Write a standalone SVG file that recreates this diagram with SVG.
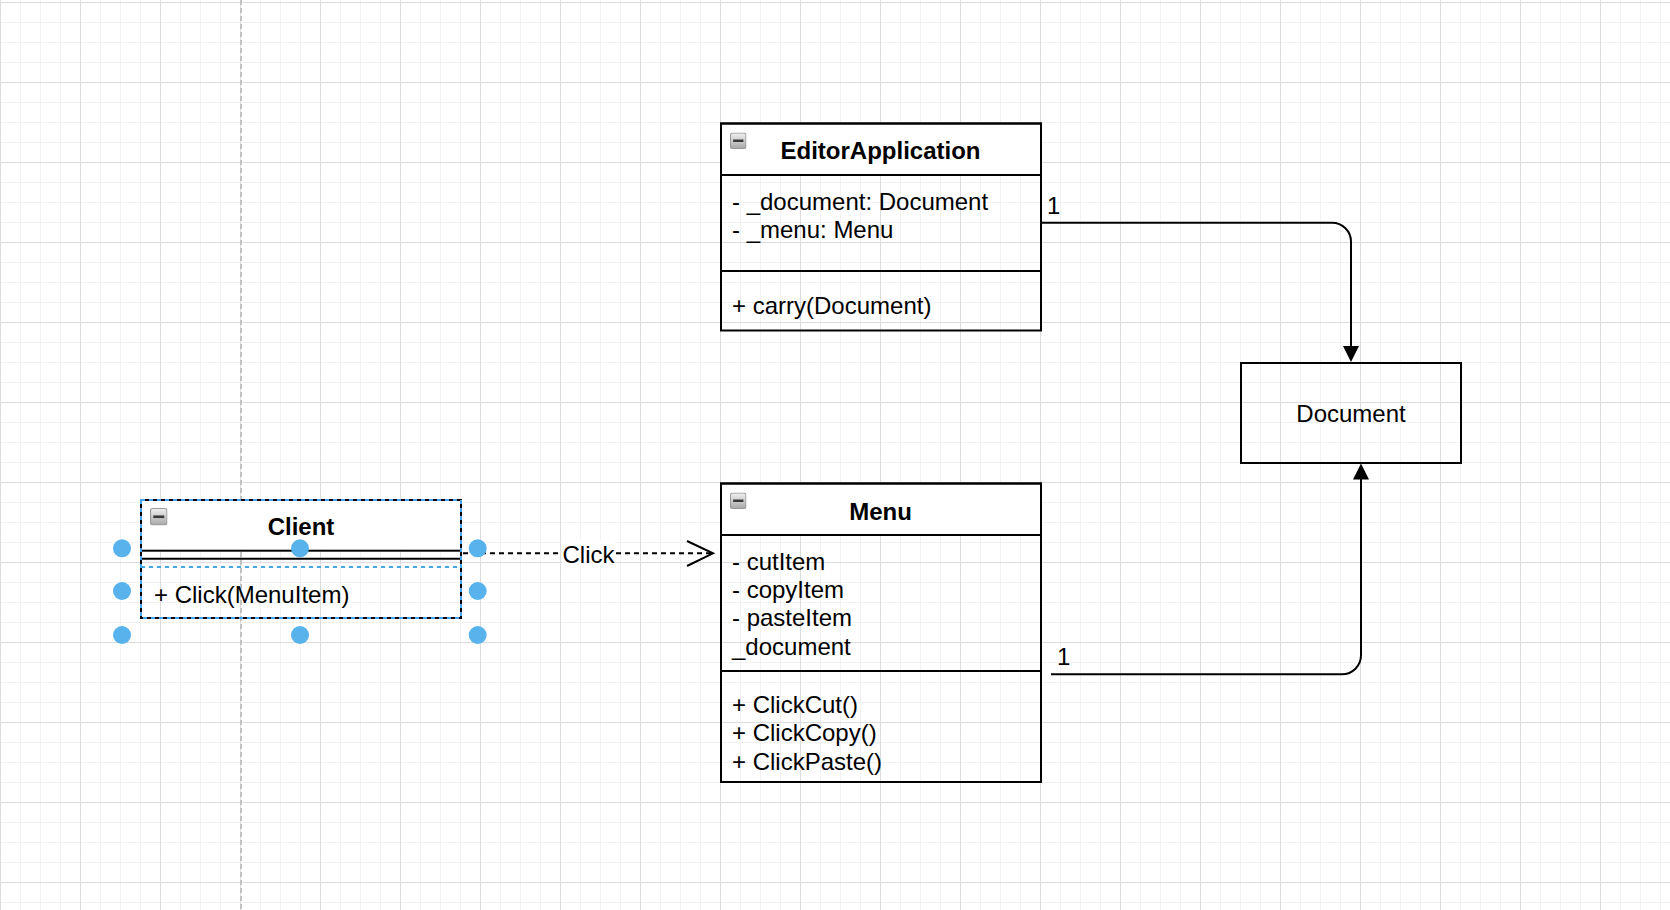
<svg xmlns="http://www.w3.org/2000/svg" width="1670" height="910" viewBox="0 0 1670 910">
<style>
.box{fill:none;stroke:#000;stroke-width:2}
.hdr{fill:#fff;stroke:#000;stroke-width:2}
.sep{stroke:#000;stroke-width:2}
.t{font-family:"Liberation Sans",Arial,sans-serif;font-size:24px;fill:#000}
.b{font-weight:bold;text-anchor:middle}
.c{text-anchor:middle}
.edge{fill:none;stroke:#000;stroke-width:2}
.sel{fill:none;stroke:#45a6f0;stroke-width:2;stroke-dasharray:4 4}
.handle{fill:#58b2ec}
</style>
<defs>
<pattern id="grid" patternUnits="userSpaceOnUse" x="0" y="2" width="80" height="80">
<rect width="80" height="80" fill="#fff"/>
<path d="M20.5 0V80M40.5 0V80M60.5 0V80M0 20.5H80M0 40.5H80M0 60.5H80" stroke="#f2f2f2" stroke-width="1"/>
<path d="M0.5 0V80M0 0.5H80" stroke="#dcdcdc" stroke-width="1"/>
</pattern>
<linearGradient id="ig" x1="0" y1="0" x2="0" y2="1">
<stop offset="0" stop-color="#f0f0f0"/>
<stop offset="1" stop-color="#a9a9a9"/>
</linearGradient>
<symbol id="minus" viewBox="0 0 16 16">
<rect x="0.5" y="0.5" width="15" height="15" rx="2" fill="url(#ig)" stroke="#9a9a9a" stroke-width="1"/>
<rect x="3" y="6.8" width="10" height="2.4" fill="#3a3a3a"/>
</symbol>
</defs>

<rect width="1670" height="910" fill="url(#grid)"/>
<line x1="241" y1="0" x2="241" y2="910" stroke="#c2c2c2" stroke-width="2" stroke-dasharray="5 3"/>

<g id="editor-application">
<rect class="hdr" x="721" y="123.5" width="320" height="51.5"/>
<rect class="box" x="721" y="123.5" width="320" height="207"/>
<line class="sep" x1="721" y1="271" x2="1041" y2="271"/>
<use href="#minus" x="730" y="132.5" width="16.5" height="16.5"/>
<text class="t b" x="880.5" y="159">EditorApplication</text>
<text class="t" x="732" y="209.5">- _document: Document</text>
<text class="t" x="732" y="238">- _menu: Menu</text>
<text class="t" x="732" y="314">+ carry(Document)</text>
</g>

<g id="menu">
<rect class="hdr" x="721" y="483.5" width="320" height="51.5"/>
<rect class="box" x="721" y="483.5" width="320" height="298.5"/>
<line class="sep" x1="721" y1="671" x2="1041" y2="671"/>
<use href="#minus" x="730" y="492.5" width="16.5" height="16.5"/>
<text class="t b" x="880.5" y="519.5">Menu</text>
<text class="t" x="732" y="569.5">- cutItem</text>
<text class="t" x="732" y="597.8">- copyItem</text>
<text class="t" x="732" y="626.2">- pasteItem</text>
<text class="t" x="732" y="654.5">_document</text>
<text class="t" x="732" y="713">+ ClickCut()</text>
<text class="t" x="732" y="741.3">+ ClickCopy()</text>
<text class="t" x="732" y="769.5">+ ClickPaste()</text>
</g>

<g id="document">
<rect class="box" x="1241" y="363" width="220" height="100"/>
<text class="t c" x="1351" y="421.5">Document</text>
</g>

<g id="client">
<rect class="hdr" x="141" y="500" width="320" height="50.7"/>
<rect class="box" x="141" y="500" width="320" height="118"/>
<line class="sep" x1="141" y1="558.7" x2="461" y2="558.7"/>
<use href="#minus" x="150" y="508" width="17.5" height="17.5"/>
<text class="t b" x="301" y="535">Client</text>
<text class="t" x="154" y="603">+ Click(MenuItem)</text>
</g>

<g id="connectors">
<g id="edge-editor-document">
<path class="edge" d="M1041 222.7H1332A19 19 0 0 1 1351 241.7V347"/>
<polygon points="1351,362 1343,346 1359,346" fill="#000"/>
<text class="t" x="1047" y="213.5">1</text>
</g>
<g id="edge-menu-document">
<path class="edge" d="M1051 674.3H1342A19 19 0 0 0 1361 655.3V478"/>
<polygon points="1361,463.5 1353,479.5 1369,479.5" fill="#000"/>
<text class="t" x="1057" y="665">1</text>
</g>
<g id="edge-client-menu">
<path class="edge" d="M463 553.3H712" stroke-dasharray="5 4"/>
<polyline class="edge" points="687,541 713,553.3 687,566"/>
<rect x="562" y="540" width="53" height="26" fill="#fff"/>
<text class="t c" x="588.5" y="563">Click</text>
</g>
</g>

<g id="selection">
<rect class="sel" x="141" y="500" width="320" height="118"/>
<line class="sel" x1="141" y1="567" x2="461" y2="567"/>
<circle class="handle" cx="122" cy="548.3" r="9"/>
<circle class="handle" cx="300" cy="548.3" r="9"/>
<circle class="handle" cx="477.7" cy="548.3" r="9"/>
<circle class="handle" cx="122" cy="591" r="9"/>
<circle class="handle" cx="477.7" cy="591" r="9"/>
<circle class="handle" cx="122" cy="635" r="9"/>
<circle class="handle" cx="300" cy="635" r="9"/>
<circle class="handle" cx="477.7" cy="635" r="9"/>
</g>
</svg>
